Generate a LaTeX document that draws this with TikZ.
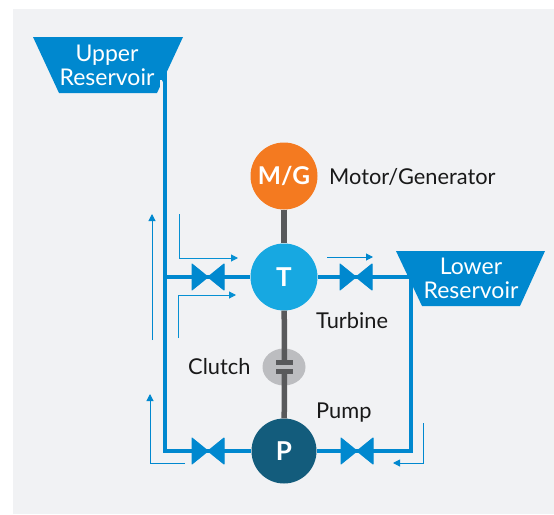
\documentclass[tikz,border=0pt]{standalone}
\usepackage{fontspec}
\usetikzlibrary{shapes.geometric,arrows.meta}
\setmainfont{Lato}
\definecolor{pipeblue}{HTML}{0088CF}
\definecolor{turbblue}{HTML}{17A8E1}
\definecolor{pumpblue}{HTML}{135C7C}
\definecolor{mgorange}{HTML}{F47A20}
\definecolor{panelbg}{HTML}{F1F2F4}
\definecolor{shaftgray}{HTML}{58595B}
\definecolor{clutchgray}{HTML}{BCBDC0}
\tikzset{
  pipe/.style={draw=pipeblue,line width=3.6pt},
  shaft/.style={draw=shaftgray,line width=5.5pt},
  flow/.style={draw=pipeblue,line width=1pt,-{Triangle[length=7pt,width=7pt]}},
  flowlight/.style={draw=pipeblue!75!turbblue,line width=1pt,-{Triangle[length=7pt,width=7pt]}},
  machine/.style={circle,minimum size=67pt,inner sep=0pt,text=white,font=\fontsize{26}{26}\selectfont\bfseries},
  label/.style={font=\fontsize{21.8}{22}\selectfont,text=black!90,inner sep=0pt},
  reslabel/.style={font=\fontsize{23}{24}\selectfont,text=white,align=center,inner sep=0pt},
  valvept/.style={inner sep=0pt,minimum size=0pt},
  plate/.style={fill=shaftgray,minimum width=17pt,minimum height=5pt,inner sep=0pt},
  bowtie/.style={fill=pipeblue,draw=pipeblue,line width=1pt,line join=round}
}
\newcommand{\bowtieat}[1]{\path[bowtie] ([shift={(-16,-13)}]#1.center) -- ([shift={(16,13)}]#1.center) -- ([shift={(16,-13)}]#1.center) -- ([shift={(-16,13)}]#1.center) -- cycle;}
\begin{document}
\begin{tikzpicture}[x=1pt,y=-1pt]
\useasboundingbox (0,0) rectangle (554,514);
\fill[white] (0,0) rectangle (554,514);
\fill[panelbg] (13,9) rectangle (554,514);

% positions
\coordinate (uTop) at (165,70);
\coordinate (uBot) at (165,451);
\coordinate (uT) at (165,277);
\coordinate (lTop) at (411,277);
\coordinate (lBot) at (411,451);
\node[valvept] (vTL) at (208,277) {};
\node[valvept] (vTR) at (356,277) {};
\node[valvept] (vPL) at (208,451) {};
\node[valvept] (vPR) at (357,451) {};
\coordinate (resR) at (420,277);

% pipes
\draw[pipe,line join=miter] (uTop) -- (uBot) -- (vPL);
\draw[pipe] (uT) -- (vTL);
\draw[pipe] (vTR) -- (resR);
\draw[pipe,line join=miter] (lTop) -- (lBot) -- (vPR);

% reservoirs
\path[fill=pipeblue] (33,37) -- (183,37) -- (157,93) -- (59,93) -- cycle;
\draw[panelbg,line width=1.5pt] (161.2,80) -- (161.2,94);
\draw[pipe] (uTop) -- (165,100);
\path[fill=pipeblue] (396,251) -- (545,251) -- (520,306) -- (422,306) -- cycle;
\node[reslabel] (upper) at (107,65) {Upper\\Reservoir};
\node[reslabel] (lower) at (471,278) {Lower\\Reservoir};

% valves
\node[machine,fill=pumpblue,minimum size=65pt] (P) at (284,451) {P};
\node[machine,fill=turbblue] (T) at (284,277) {T};
\node[machine,fill=mgorange,font=\fontsize{24.5}{25}\selectfont\bfseries] (MG) at (284,176) {M/G};
\draw[pipe] (vTL) -- (T);
\draw[pipe] (T) -- (vTR);
\draw[pipe] (vPL) -- (P);
\draw[pipe] (P) -- (vPR);
\bowtieat{vTL}
\bowtieat{vTR}
\bowtieat{vPL}
\bowtieat{vPR}

% clutch and shaft
\node[ellipse,fill=clutchgray,minimum width=43pt,minimum height=37pt,inner sep=0pt] (clutch) at (284,367) {};
\node[plate] (plateA) at (284.5,362.5) {};
\node[plate] (plateB) at (284.5,371.5) {};
\draw[shaft] (MG) -- (T);
\draw[shaft] (T) -- (plateA);
\draw[shaft] (plateB) -- (P);

% flow arrows
\coordinate (a1s) at (152,340); \coordinate (a1e) at (152,214);
\draw[flow] (a1s) -- (a1e);
\coordinate (a2s) at (179,214); \coordinate (a2c) at (179,258); \coordinate (a2e) at (238,258);
\draw[flowlight] (a2s) -- (a2c) -- (a2e);
\coordinate (a3s) at (178,338); \coordinate (a3c) at (178,295); \coordinate (a3e) at (236,295);
\draw[flowlight] (a3s) -- (a3c) -- (a3e);
\coordinate (a4s) at (185,463); \coordinate (a4c) at (150,463); \coordinate (a4e) at (150,394);
\draw[flow] (a4s) -- (a4c) -- (a4e);
\coordinate (a5s) at (423,423); \coordinate (a5c) at (423,463); \coordinate (a5e) at (393,463);
\draw[flow] (a5s) -- (a5c) -- (a5e);
\coordinate (a6s) at (327,257); \coordinate (a6e) at (373,257);
\draw[flow] (a6s) -- (a6e);

% labels
\node[label,anchor=west] (mglabel) at (329,177) {Motor/Generator};
\node[label,anchor=west] (tlabel) at (316,321) {Turbine};
\node[label,anchor=west] (clabel) at (188,367) {Clutch};
\node[label,anchor=west] (plabel) at (316,413) {Pump};
\end{tikzpicture}
\end{document}
